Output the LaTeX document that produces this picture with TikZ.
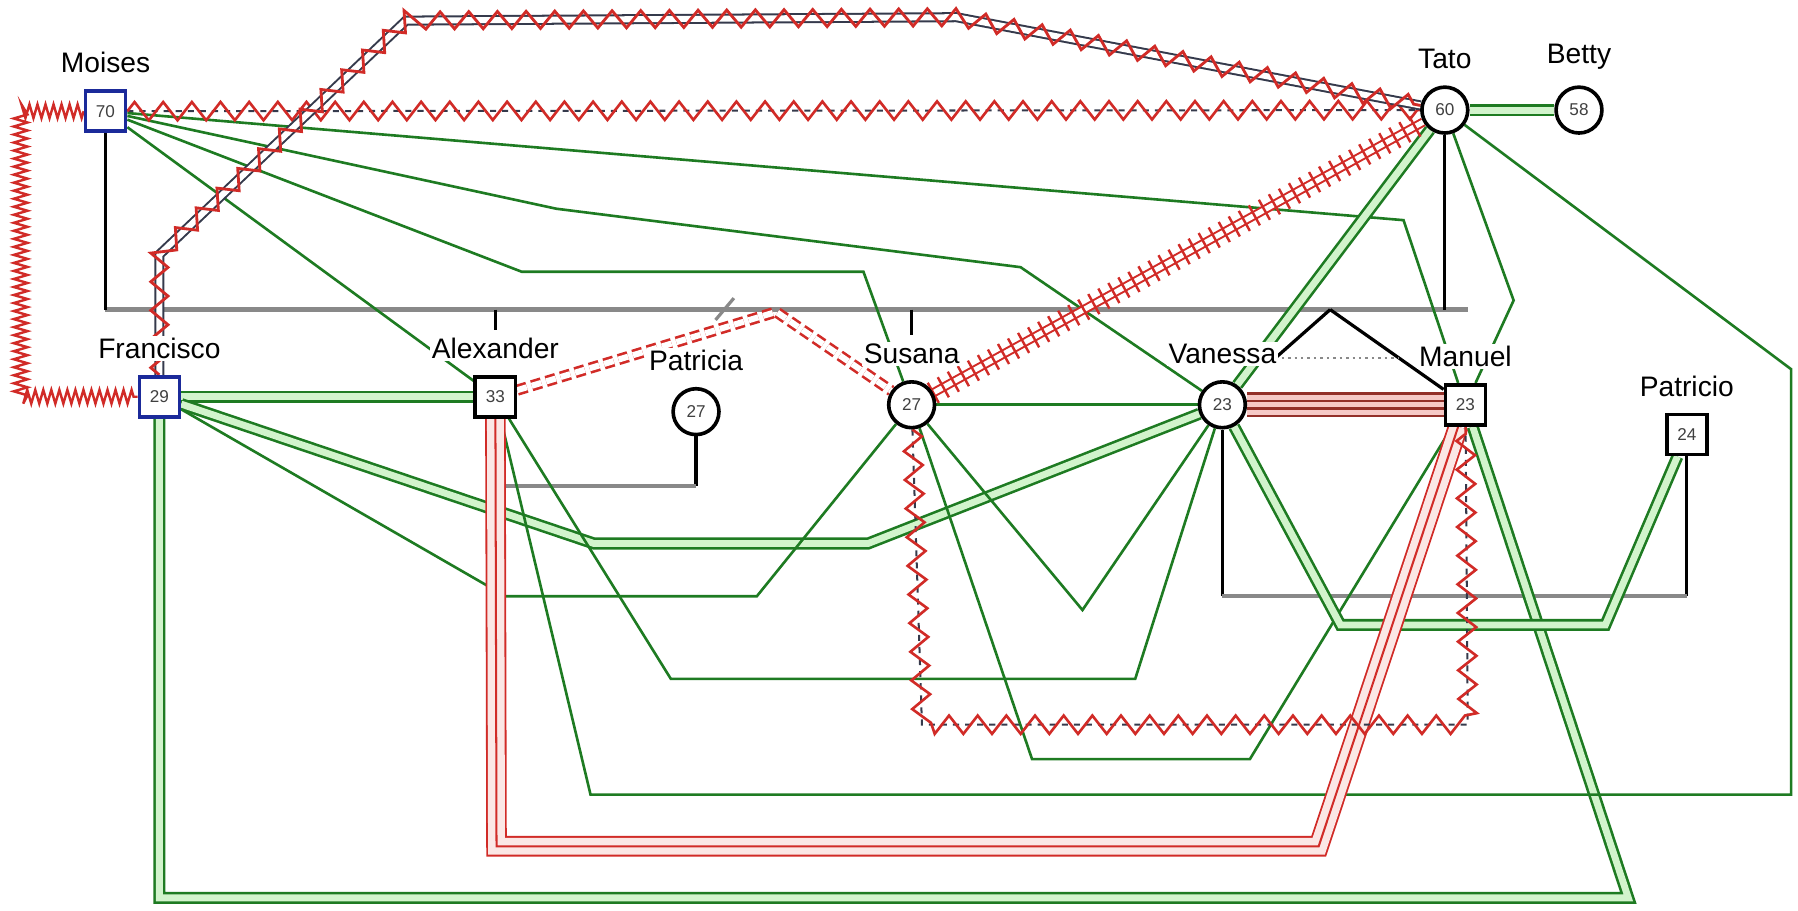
\documentclass[tikz,border=0pt]{standalone}
\usepackage{fontspec}
\setmainfont{Liberation Sans}
\usepackage{tikz}
\usetikzlibrary{positioning,calc,backgrounds,decorations.pathmorphing,decorations.pathreplacing}
\definecolor{harmgreen}{HTML}{1E7B22}
\definecolor{harmlight}{HTML}{D2F4CC}
\definecolor{hostred}{HTML}{D12B27}
\definecolor{fusedred}{HTML}{933029}
\definecolor{fusedpink}{HTML}{F6C9C6}
\definecolor{kingray}{HTML}{898989}
\definecolor{maleblue}{HTML}{1B2A9A}
\definecolor{basedark}{HTML}{353A4C}

\begin{document}
\begin{tikzpicture}[x=0.02cm,y=-0.02cm,node distance=2.4mm,
 man/.style={draw,line width=1.8pt,fill=white,minimum size=0.7cm,inner sep=0pt,
 font=\fontsize{8.5}{9}\selectfont,text=black!75},
 woman/.style={man,circle,minimum size=0.8cm},
 who/.style={fill=white,inner sep=1pt,font=\fontsize{14}{16}\selectfont},
 kin/.style={draw=black,line width=1.6pt},
 sib/.style={draw=kingray,line width=2.2pt},
 harm/.style={draw=harmgreen,line width=1.3pt},
 closeline/.style={draw=harmgreen,line width=1.3pt,double=harmlight,double distance=3.4pt},
 fused/.style={draw=fusedpink,line width=10pt,preaction={draw=fusedred,line width=12.4pt},
 postaction={draw=fusedred,line width=1.1pt,double=fusedpink,double distance=2.6pt}},
 fusedthin/.style={draw=fusedpink!45,line width=8.4pt,preaction={draw=hostred,line width=10.2pt},
 postaction={draw=hostred,line width=1pt}},
 zig/.style={draw=hostred,line width=1.3pt,decorate,decoration={zigzag,amplitude=0.16cm,segment length=0.5cm}},
 zigfine/.style={draw=hostred,line width=1.2pt,decorate,decoration={zigzag,amplitude=0.12cm,segment length=0.14cm}},
 zigtop/.style={draw=hostred,line width=1.4pt,decorate,decoration={zigzag,amplitude=0.15cm,segment length=0.5cm}},
 dashbase/.style={draw=basedark,line width=1pt,dashed},
 twinbase/.style={draw=basedark,line width=1pt,double=white,double distance=3pt},
 cutbase/.style={draw=hostred,line width=1pt,double=white,double distance=2.6pt},
 cutoff/.style={draw=hostred,line width=1.2pt,decorate,decoration={ticks,segment length=0.2cm,amplitude=0.2cm}},
 distant/.style={draw=hostred,line width=1.3pt,double=white,double distance=3pt,dash pattern=on 5pt off 2.5pt}]
 \useasboundingbox (0,0) rectangle (1568,794);

 % people
 \node[man,draw=maleblue] (moises) at (92,97) {70};
 \node[man,draw=maleblue] (francisco) at (139,346) {29};
 \node[man] (alexander) at (432,346) {33};
 \node[woman] (patricia) at (607,359) {27};
 \node[woman] (susana) at (795,353) {27};
 \node[woman] (vanessa) at (1066,353) {23};
 \node[man] (manuel) at (1278,353) {23};
 \node[man] (patricio) at (1471,379) {24};
 \node[woman] (tato) at (1260,96) {60};
 \node[woman] (betty) at (1377,96) {58};

 \node[who,above=of moises] (moisesname) {Moises};
 \node[who,above=of francisco] (francisconame) {Francisco};
 \node[who,above=of alexander] (alexandername) {Alexander};
 \node[who,above=of patricia] (patricianame) {Patricia};
 \node[who,above=of susana] (susananame) {Susana};
 \node[who,above=of vanessa] (vanessaname) {Vanessa};
 \node[who,above=of manuel] (manuelname) {Manuel};
 \node[who,above=of patricio] (patricioname) {Patricio};
 \node[who,above=of tato] (tatoname) {Tato};
 \node[who,above=of betty] (bettyname) {Betty};

 \coordinate (sibleft) at (92,270);
 \coordinate (sibright) at (1280,270);
 \coordinate (twin) at (1160,270);
 \coordinate (alexpat) at (432,424);
 \coordinate (patalex) at (607,424);
 \coordinate (vanpat) at (1066,520);
 \coordinate (patvan) at (1471,520);

 \begin{scope}[on background layer]
 % family lines
 \draw[sib] (sibleft) -- (sibright);
 \draw[kin] (moises) -- (moises |- sibleft);
 \draw[kin] (tato) -- (tato |- sibleft);
 \draw[kin] (francisco |- sibleft) -- ++(0,20);
 \draw[kin] (alexander |- sibleft) -- ++(0,18);
 \draw[kin] (susana |- sibleft) -- ++(0,22);
 \draw[kin] (twin) -- ($(twin)!0.55!(vanessa)$);
 \draw[kin] (twin) -- (manuel);
 \draw[draw=kingray,line width=1.2pt,dotted] ($(twin)!0.51!(vanessa)$) -- ($(twin)!0.51!(manuel)$);
 \draw[kin] (alexander) -- (alexpat);
 \draw[kin] (patricia) -- (patalex);
 \draw[sib] (alexpat) -- (patalex);
 \draw[kin] (vanessa) -- (vanpat);
 \draw[kin] (patricio) -- (patvan);
 \draw[sib] (vanpat) -- (patvan);
 \draw[draw=kingray,line width=1.6pt] (624,279) -- (640,260);

 % harmony and close links
 \draw[harm] (moises) -- (1224,192) -- (manuel);
 \draw[harm] (moises) -- (485,182) -- (890,233) -- (vanessa);
 \draw[harm] (moises) -- (455,237) -- (753,237) -- (susana);
 \draw[harm] (moises) -- (alexander);
 \draw[closeline] (francisco) -- (alexander);
 \draw[closeline] (francisco) -- (518,474) -- (757,474) -- (vanessa);
 \draw[harm] (francisco) -- (441,520) -- (660,520) -- (susana);
 \draw[closeline] (francisco) -- (139,783) -- (1420,783) -- (manuel);
 \draw[harm] (alexander) -- (585,592) -- (990,592) -- (vanessa);
 \draw[harm] (alexander) -- (515,693) -- (1562,693) -- (1562,322) -- (tato);
 \draw[harm] (susana) -- (vanessa);
 \draw[harm] (susana) -- (944,532) -- (vanessa);
 \draw[harm] (susana) -- (900,662) -- (1090,662) -- (manuel);
 \draw[closeline] (vanessa) -- (1169,545) -- (1400,545) -- (patricio);
 \draw[closeline] (tato) -- (vanessa);
 \draw[harm] (tato) -- (1320,262) -- (manuel);
 \draw[closeline] (tato) -- (betty);

 % hostile links
 \draw[dashbase] (moises) -- (tato);
 \draw[zig] (moises) -- (tato);
 \draw[zigfine] (moises.west) -- (18,97) -- (18,346) -- (francisco.west);
 \draw[twinbase] (francisco) -- (139,222) -- (354,18) -- (834,15) -- (tato);
 \draw[zigtop] (francisco) -- (139,222) -- (354,18) -- (834,15) -- (tato);
 \draw[cutbase] (susana) -- (tato);
 \draw[cutoff] (susana) -- (tato);
 \draw[distant] (alexander) -- (677,272) -- (susana);
 \draw[fusedthin] (alexander) -- (433,738) -- (1150,738) -- (manuel);
 \draw[fused] (vanessa) -- (manuel);
 \draw[dashbase] (susana) -- (804,632) -- (1280,632) -- (manuel);
 \draw[zig] (susana) -- (804,632) -- (1280,632) -- (manuel);
 \end{scope}
\end{tikzpicture}
\end{document}
